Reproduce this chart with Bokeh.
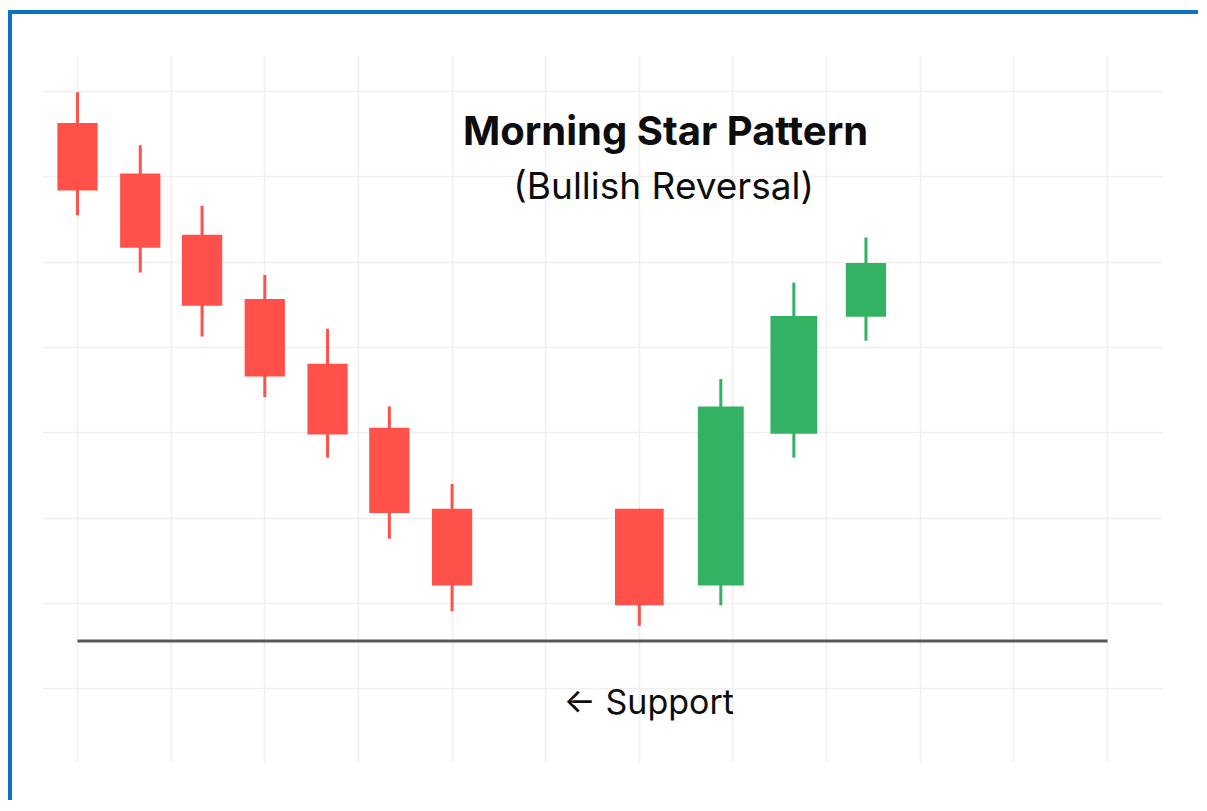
from bokeh.plotting import figure
from bokeh.models import Range1d, FixedTicker, ColumnDataSource, Label
from bokeh.embed import file_html
from bokeh.resources import INLINE

# ---- data ----
x_pos = [0, 0.67, 1.33, 2, 2.67, 3.33, 4, 6, 6.87, 7.65, 8.42]
opens = [166.3, 160.4, 153.2, 145.7, 138.1, 130.6, 121.1, 121.1, 112.1, 129.9, 143.6]
closes = [158.4, 151.7, 144.9, 136.6, 129.8, 120.6, 112.1, 109.8, 133.1, 143.7, 149.9]
highs = [169.9, 163.7, 156.6, 148.5, 142.2, 133.1, 124.0, 121.1, 136.3, 147.6, 152.9]
lows = [155.5, 148.8, 141.3, 134.2, 127.1, 117.6, 109.1, 107.4, 109.8, 127.1, 140.8]
support_level = 105.6
support_span = [0, 11]
x_ticks = list(range(0, 12))
y_ticks = [100, 110, 120, 130, 140, 150, 160, 170]
title_text = "Morning Star Pattern"
subtitle_text = "(Bullish Reversal)"
support_text = "\u2190 Support"

# ---- style ----
RED = "#ff5049"
GREEN = "#34b264"
body_widths = [0.43, 0.43, 0.43, 0.43, 0.43, 0.43, 0.43, 0.52, 0.49, 0.5, 0.43]

colors = [GREEN if c > o else RED for o, c in zip(opens, closes)]
src = ColumnDataSource(dict(
    x=x_pos,
    top=[max(o, c) for o, c in zip(opens, closes)],
    bottom=[min(o, c) for o, c in zip(opens, closes)],
    high=highs, low=lows, color=colors, w=body_widths,
))

p = figure(
    width=1190, height=790,
    x_range=Range1d(-0.374, 11.587), y_range=Range1d(91.37, 174.22),
    output_backend="svg", toolbar_location=None,
    min_border_left=30, min_border_right=40, min_border_top=41, min_border_bottom=42,
)
p.styles = {
    "border-left": "4px solid #0a72c8",
    "border-top": "4px solid #0a72c8",
    "margin-top": "10px",
    "margin-left": "8px",
}
p.outline_line_color = None
p.background_fill_color = "white"
p.border_fill_color = "white"
p.xaxis.visible = False
p.yaxis.visible = False
p.xaxis.ticker = FixedTicker(ticks=x_ticks)
p.yaxis.ticker = FixedTicker(ticks=y_ticks)
p.xgrid.ticker = FixedTicker(ticks=x_ticks)
p.ygrid.ticker = FixedTicker(ticks=y_ticks)
for g in (p.xgrid, p.ygrid):
    g.grid_line_color = "#efefef"
    g.grid_line_width = 1.5

p.segment(x0="x", y0="low", x1="x", y1="high", source=src, line_color="color", line_width=3)
p.vbar(x="x", width="w", top="top", bottom="bottom", source=src, fill_color="color", line_color=None)

p.line(x=support_span, y=[support_level, support_level], line_color="#585858", line_width=3)

p.add_layout(Label(x=6.28, y=165.4, text=title_text, text_align="center", text_baseline="alphabetic",
                   text_font="Inter", text_font_style="bold", text_font_size="40px", text_color="#0d0d0d"))
p.add_layout(Label(x=6.26, y=159.0, text=subtitle_text, text_align="center", text_baseline="alphabetic",
                   text_font="Inter", text_font_size="37px", text_color="#0d0d0d"))
p.add_layout(Label(x=6.10, y=98.5, text=support_text, text_align="center", text_baseline="alphabetic",
                   text_font="Inter", text_font_size="34px", text_color="#0d0d0d"))

open("out.html", "w").write(file_html(p, INLINE))
